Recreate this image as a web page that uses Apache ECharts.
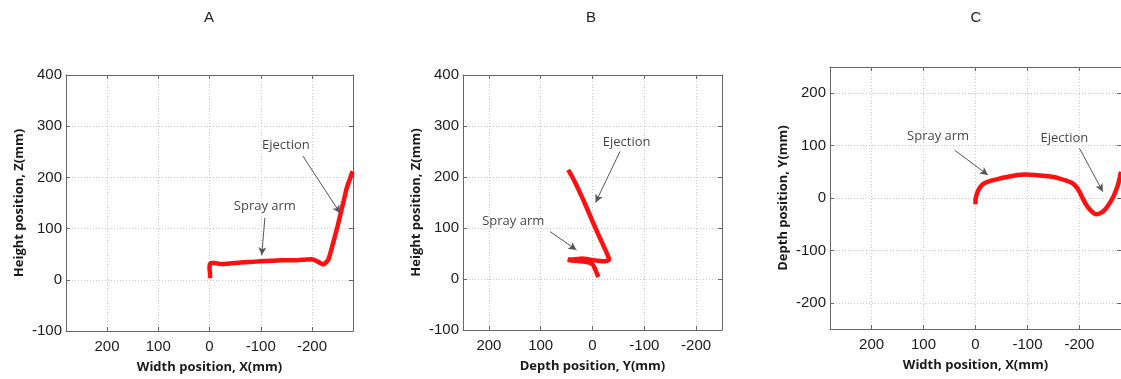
<!DOCTYPE html>
<html><head><meta charset="utf-8">
<script src="https://cdn.jsdelivr.net/npm/echarts@6/dist/echarts.min.js"></script>
<style>html,body{margin:0;padding:0;background:#fff}#c{width:1121px;height:379px}</style>
</head><body><div id="c"></div>
<script>
// Panel titles
const panelTitles = ['A', 'B', 'C'];
// Axis names
const xNames = ['Width position, X(mm)', 'Depth position, Y(mm)', 'Width position, X(mm)'];
const yNames = ['Height position, Z(mm)', 'Height position, Z(mm)', 'Depth position, Y(mm)'];
// Axis ranges [min, max]
const xRanges = [[-280, 280], [-250, 250], [-280, 280]];
const yRanges = [[-100, 400], [-100, 400], [-250, 250]];

// Panel A: X (mm) vs Z (mm)
const trajA = [[-1,3],[-1,12],[0,22],[-1,31],[-3,33],[-10,33],[-20,31],[-40,32],[-60,34],[-80,35],[-100,36],[-120,37],[-140,38],[-160,38],[-180,39],[-200,40],[-212,35],[-222,30],[-232,40],[-242,75],[-250,105],[-256,130],[-262,155],[-268,180],[-274,197],[-279,212]];
// Panel B: Y (mm) vs Z (mm)
const trajB = [[-11,4],[-8,12],[-4,22],[0,29],[10,33],[25,35],[37,36],[45,37],[47,38],[40,38],[30,39],[20,40],[5,38],[-10,36],[-25,35],[-32,38],[-30,45],[-20,68],[-10,90],[0,113],[10,137],[20,160],[30,182],[40,202],[47,214]];
// Panel C: X (mm) vs Y (mm)
const trajC = [[0,-12],[0,-3],[-2,6],[-5,14],[-10,22],[-17,28],[-30,33],[-46,37],[-65,41],[-80,44],[-97,45],[-115,44],[-135,42],[-150,40],[-162,37],[-175,33],[-187,28],[-195,20],[-200,12],[-206,0],[-213,-13],[-222,-24],[-232,-31],[-242,-28],[-251,-20],[-260,-7],[-266,4],[-271,16],[-276,32],[-280,50]];

// Annotations: [label, textPos, arrowStart, arrowEnd] in data units
const notesA = [['Spray arm',[-108,144],[-108,121],[-102,48]], ['Ejection',[-149,263],[-182,242],[-255,130]]];
const notesB = [['Spray arm',[153,114],[82,93],[31,57]], ['Ejection',[-66,269],[-53,250],[-6,150]]];
const notesC = [['Spray arm',[72,118],[40,91],[-24,44]], ['Ejection',[-171,114],[-200,95],[-245,12]]];

const trajs = [trajA, trajB, trajC];
const notes = [notesA, notesB, notesC];
const grids = [
  {left: 66, top: 75, width: 287, height: 256},
  {left: 463, top: 75, width: 259, height: 255},
  {left: 830, top: 67, width: 292, height: 262}
];
const titleX = [209, 591, 976];

const tickFont = {fontFamily: 'Liberation Sans', fontSize: 15, color: '#1a1a1a'};
const nameFont = {fontFamily: 'Open Sans', fontSize: 13, fontWeight: 'bold', color: '#1a1a1a'};
const boxLine = {show: true, onZero: false, lineStyle: {color: '#666', width: 1}};
const tick = {show: true, inside: true, length: 4, lineStyle: {color: '#666'}};
const gridLine = {show: true, lineStyle: {color: '#c8c8c8', width: 1, type: [1, 2]}};

const xAxis = [], yAxis = [], series = [];
for (let i = 0; i < 3; i++) {
  xAxis.push({
    gridIndex: i, type: 'value', position: 'bottom', inverse: true,
    min: xRanges[i][0], max: xRanges[i][1], splitNumber: 5,
    name: xNames[i], nameLocation: 'middle', nameGap: 30, nameTextStyle: nameFont,
    axisLine: boxLine, axisTick: tick,
    axisLabel: Object.assign({margin: 8, showMinLabel: false, showMaxLabel: false}, tickFont),
    splitLine: gridLine
  });
  xAxis.push({
    gridIndex: i, type: 'value', position: 'top', inverse: true,
    min: xRanges[i][0], max: xRanges[i][1], splitNumber: 5,
    axisLine: boxLine, axisTick: tick,
    axisLabel: {show: false}, splitLine: {show: false}
  });
  yAxis.push({
    gridIndex: i, type: 'value', position: 'left',
    min: yRanges[i][0], max: yRanges[i][1], splitNumber: 5,
    name: yNames[i], nameLocation: 'middle', nameGap: 40, nameTextStyle: nameFont,
    axisLine: boxLine, axisTick: tick,
    axisLabel: Object.assign({margin: 4, showMinLabel: i !== 2, showMaxLabel: i !== 2}, tickFont),
    splitLine: gridLine
  });
  yAxis.push({
    gridIndex: i, type: 'value', position: 'right',
    min: yRanges[i][0], max: yRanges[i][1], splitNumber: 5,
    axisLine: boxLine, axisTick: tick,
    axisLabel: {show: false}, splitLine: {show: false}
  });
  series.push({
    type: 'line', xAxisIndex: 2 * i, yAxisIndex: 2 * i, data: trajs[i],
    showSymbol: false, smooth: 0.2, clip: false,
    lineStyle: {color: '#ff1010', width: 4.5}, z: 3,
    markLine: {
      silent: true, symbol: ['none', 'arrow'], symbolSize: [6, 8],
      label: {show: false}, lineStyle: {color: '#555', width: 1, type: 'solid'},
      data: notes[i].map(n => [{coord: n[2]}, {coord: n[3]}])
    }
  });
  series.push({
    type: 'scatter', xAxisIndex: 2 * i, yAxisIndex: 2 * i, symbolSize: 0,
    data: notes[i].map(n => ({value: n[1], name: n[0]})),
    label: {show: true, position: 'inside', formatter: p => p.name,
      fontFamily: 'Open Sans', fontSize: 13, color: '#111'}
  });
}

const chart = echarts.init(document.getElementById('c'), null, {renderer: 'canvas'});
chart.setOption({
  animation: false,
  backgroundColor: '#fff',
  grid: grids,
  xAxis: xAxis,
  yAxis: yAxis,
  series: series,
  graphic: panelTitles.map((t, i) => ({
    type: 'text', x: titleX[i], y: 10,
    style: {text: t, fontFamily: 'Liberation Sans', fontSize: 15, fill: '#222', align: 'center'}
  }))
});
</script></body></html>
